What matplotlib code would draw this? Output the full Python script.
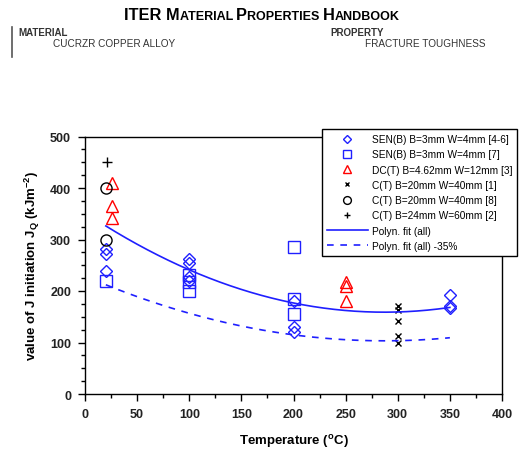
import numpy as np
import matplotlib.pyplot as plt

plt.rcParams['font.family'] = ['Liberation Sans', 'DejaVu Sans']

# data (temperature in C, J_Q in kJ/m^2)
senb_46_t = [20, 20, 20, 100, 100, 100, 100, 200, 200, 200, 350, 350, 350]
senb_46_j = [282, 272, 239, 262, 255, 228, 220, 180, 130, 120, 192, 171, 167]

senb_7_t = [20, 100, 100, 100, 200, 200, 200]
senb_7_j = [220, 232, 218, 200, 285, 184, 155]

dct_t = [26, 26, 26, 250, 250, 250]
dct_j = [410, 365, 342, 218, 210, 180]

ct1_t = [300, 300, 300, 300, 300]
ct1_j = [170, 163, 142, 112, 100]

ct8_t = [20, 20]
ct8_j = [400, 300]

ct2_t = [21]
ct2_j = [450]

fit_deg = 2
lower_factor = 0.65

blue = '#1f1fff'

fig = plt.figure(figsize=(5.22, 4.64), dpi=100)
ax = fig.add_axes([85 / 522, 1 - 395 / 464, 417 / 522, 257.5 / 464])

ax.plot(senb_46_t, senb_46_j, 'D', ms=6, mfc='none', mec=blue, mew=1,
        label='SEN(B) B=3mm W=4mm [4-6]', ls='none')
ax.plot(senb_7_t, senb_7_j, 's', ms=8, mfc='none', mec=blue, mew=1,
        label='SEN(B) B=3mm W=4mm [7]', ls='none')
ax.plot(dct_t, dct_j, '^', ms=8, mfc='none', mec='red', mew=1,
        label='DC(T) B=4.62mm W=12mm [3]', ls='none')
ax.plot(ct1_t, ct1_j, 'x', ms=5, color='black', mew=1,
        label='C(T) B=20mm W=40mm [1]', ls='none')
ax.plot(ct8_t, ct8_j, 'o', ms=8, mfc='none', mec='black', mew=1,
        label='C(T) B=20mm W=40mm [8]', ls='none')
ax.plot(ct2_t, ct2_j, '+', ms=7, color='black', mew=1,
        label='C(T) B=24mm W=60mm [2]', ls='none')

# polynomial fit through all points
all_t = np.concatenate([senb_46_t, senb_7_t, dct_t, ct1_t, ct8_t, ct2_t])
all_j = np.concatenate([senb_46_j, senb_7_j, dct_j, ct1_j, ct8_j, ct2_j])
coef = np.polyfit(all_t, all_j, fit_deg)
tt = np.linspace(20, 350, 200)
fit = np.polyval(coef, tt)
ax.plot(tt, fit, color=blue, lw=1.2, label='Polyn. fit (all)')
ax.plot(tt, fit * lower_factor, color=blue, lw=1.2, ls=(0, (4, 4)),
        label='Polyn. fit (all) -35%')

ax.set_xlim(0, 400)
ax.set_ylim(0, 500)
ax.set_xticks(np.arange(0, 401, 50))
ax.set_yticks(np.arange(0, 501, 100))
ax.set_xticks(np.arange(0, 401, 25), minor=True)
ax.set_yticks(np.arange(0, 501, 25), minor=True)
ax.tick_params(which='major', direction='out', length=5, width=1, labelsize=9, pad=5)
ax.tick_params(which='minor', direction='out', length=3, width=1)
for lab in ax.get_xticklabels() + ax.get_yticklabels():
    lab.set_fontweight('bold')
    lab.set_color('#222222')
for s in ax.spines.values():
    s.set_linewidth(1)

ax.set_xlabel('Temperature ($^{\\mathregular{o}}$C)', fontsize=9.5, fontweight='bold', labelpad=9)
ax.set_ylabel('value of J initiation J$_{\\mathregular{Q}}$ (kJm$^{\\mathregular{-2}}$)',
              fontsize=9.5, fontweight='bold', labelpad=6)

leg = ax.legend(loc='upper left', bbox_to_anchor=(317 / 522, 1 - 125 / 464),
                bbox_transform=fig.transFigure, fontsize=7.3, frameon=True,
                fancybox=False, edgecolor='black', framealpha=1,
                handlelength=4.0, labelspacing=0.52, borderpad=0.5,
                handletextpad=0.4, markerscale=0.7)
leg.get_frame().set_linewidth(1)

# header
pieces = [('ITER ', 11.8), ('M', 11.8), ('ATERIAL ', 9), ('P', 11.8),
          ('ROPERTIES ', 9), ('H', 11.8), ('ANDBOOK', 9)]
for txt, fs in pieces:
    fig.text(0, 1 - 20 / 464, txt, fontsize=fs, fontweight='bold', va='baseline', ha='left')
fig.canvas.draw()
r = fig.canvas.get_renderer()
x0 = 124 / 522
texts = fig.texts[-len(pieces):]
for t in texts:
    t.set_position((x0, 1 - 20 / 464))
    bb = t.get_window_extent(r)
    x0 += bb.width / fig.bbox.width

fig.text(18 / 522, 1 - 36 / 464, 'MATERIAL', fontsize=7, fontweight='bold', color='#333333')
fig.text(53 / 522, 1 - 47 / 464, 'CUCRZR COPPER ALLOY', fontsize=7.2, color='#333333')
fig.text(330 / 522, 1 - 36 / 464, 'PROPERTY', fontsize=7, fontweight='bold', color='#333333')
fig.text(365 / 522, 1 - 47 / 464, 'FRACTURE TOUGHNESS', fontsize=7.2, color='#333333')
fig.add_artist(plt.Line2D([12 / 522, 12 / 522], [1 - 28 / 464, 1 - 58 / 464],
                          color='#555555', lw=1.2))

fig.savefig('out.png', dpi=100)
